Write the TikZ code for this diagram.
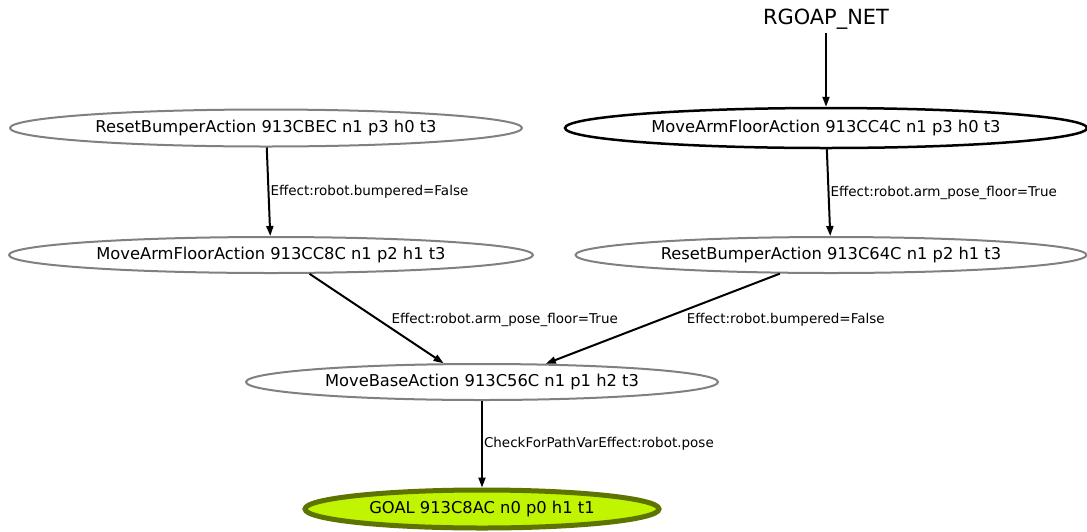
\documentclass[tikz,border=0pt]{standalone}
\usepackage{fontspec}
\setmainfont{DejaVu Sans}
\usetikzlibrary{shapes.geometric, arrows.meta}

\definecolor{verdegoal}{RGB}{192,244,0}
\definecolor{bordegoal}{RGB}{94,116,0}
\definecolor{grisnodo}{RGB}{128,128,128}

\tikzset{
  accion/.style={ellipse, draw=grisnodo, line width=2pt, inner sep=0pt,
    font=\fontsize{16.3}{18}\selectfont},
  flecha/.style={line width=2pt, -{Triangle[length=10pt,width=7pt]}},
  etiqueta/.style={inner sep=0pt, anchor=west, font=\fontsize{13.5}{15}\selectfont}
}

\begin{document}
\begin{tikzpicture}[x=1pt, y=-1pt]
            \useasboundingbox (0,0) rectangle (1087,531);

            % Raiz
            \node[inner sep=4pt, font=\fontsize{20.9}{24}\selectfont] (net) at (826,19) {RGOAP\_NET};

            % Acciones
            \node[accion, minimum width=512pt, minimum height=37pt] (rb1) at (266,128) {ResetBumperAction 913CBEC n1 p3 h0 t3};
            \node[accion, draw=black, line width=2.5pt, minimum width=522pt, minimum height=40pt] (maf1) at (826,128) {MoveArmFloorAction 913CC4C n1 p3 h0 t3};
            \node[accion, minimum width=524pt, minimum height=36pt] (maf2) at (271,255) {MoveArmFloorAction 913CC8C n1 p2 h1 t3};
            \node[accion, minimum width=511pt, minimum height=36pt] (rb2) at (831,255) {ResetBumperAction 913C64C n1 p2 h1 t3};
            \node[accion, minimum width=472pt, minimum height=36pt] (mb) at (482,382) {MoveBaseAction 913C56C n1 p1 h2 t3};

            % Meta
            \node[accion, draw=bordegoal, fill=verdegoal, line width=5pt, minimum width=354pt, minimum height=38pt] (goal) at (482,509) {GOAL 913C8AC n0 p0 h1 t1};

            % Aristas
            \draw[flecha] (net) -- (maf1);
            \draw[flecha] (rb1) -- node[etiqueta, xshift=1pt] {Effect:robot.bumpered=False} (maf2);
            \draw[flecha] (maf1) -- node[etiqueta, xshift=1pt] {Effect:robot.arm\_pose\_floor=True} (rb2);
            \draw[flecha] (maf2.-26) -- node[etiqueta, xshift=14pt, yshift=-1pt] {Effect:robot.arm\_pose\_floor=True} (mb.154);
            \draw[flecha] (rb2.-160) -- node[etiqueta, xshift=23pt, yshift=-1pt] {Effect:robot.bumpered=False} (mb.16);
            \draw[flecha] (mb) -- node[etiqueta, xshift=1pt] {CheckForPathVarEffect:robot.pose} (goal);
        \end{tikzpicture}
\end{document}
